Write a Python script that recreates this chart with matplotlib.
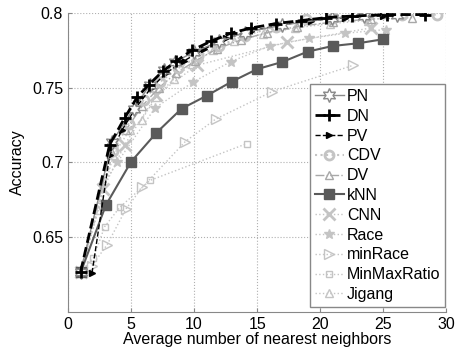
import matplotlib
matplotlib.use("Agg")
import matplotlib.pyplot as plt

plt.rcParams["font.family"] = ["Liberation Sans", "DejaVu Sans"]

# ---- data ------------------------------------------------------------------
pn_x = [1, 3.5, 5.2, 6.5, 7.6, 8.5, 10, 12, 14, 17, 20.9, 23.5, 26.1]
pn_y = [0.627, 0.714, 0.736, 0.752, 0.762, 0.7675, 0.774, 0.781, 0.787,
        0.792, 0.7965, 0.798, 0.7987]

dn_x = [1, 3.3, 4.5, 5.5, 6.4, 7.5, 8.6, 9.8, 11.3, 12.9, 14.5, 16.5, 18.5,
        20.5, 22.5, 25.3, 28.3]
dn_y = [0.627, 0.712, 0.730, 0.744, 0.752, 0.761, 0.768, 0.775, 0.781,
        0.7865, 0.790, 0.793, 0.795, 0.797, 0.798, 0.799, 0.799]

pv_x = [1.9, 3.3, 4.3, 5.4, 6.6, 7.8, 9.2, 10.8, 12.5, 14.5, 16.8, 19.3, 22, 25]
pv_y = [0.626, 0.705, 0.722, 0.737, 0.750, 0.760, 0.768, 0.776, 0.783,
        0.788, 0.792, 0.795, 0.797, 0.798]

cdv_x = [1, 3.6, 4.8, 6, 7.3, 8.7, 10.3, 12, 14, 16.5, 18.9, 21, 23.7, 26.5, 29.3]
cdv_y = [0.627, 0.708, 0.726, 0.742, 0.754, 0.763, 0.771, 0.778, 0.785,
         0.791, 0.7958, 0.797, 0.798, 0.7985, 0.799]

dv_x = [1, 3.4, 4.6, 5.9, 7.2, 8.6, 10.1, 11.8, 13.7, 15.8, 18.2, 21, 24, 27.3]
dv_y = [0.627, 0.708, 0.722, 0.738, 0.750, 0.760, 0.768, 0.776, 0.782,
        0.787, 0.791, 0.794, 0.796, 0.797]

knn_x = [1, 3, 5, 7, 9, 11, 13, 15, 17, 19, 21, 23, 25]
knn_y = [0.6265, 0.6715, 0.7005, 0.7198, 0.736, 0.7447, 0.7542, 0.7625,
         0.7673, 0.7742, 0.778, 0.7798, 0.7825]

cnn_x = [1, 2.8, 4.5, 7, 10.2, 17.4, 24]
cnn_y = [0.627, 0.6825, 0.712, 0.745, 0.765, 0.7805, 0.790]

race_x = [1, 2.7, 3.9, 6.9, 9.95, 12.9, 16.0, 19.1, 22.0, 25.2]
race_y = [0.627, 0.684, 0.700, 0.7365, 0.754, 0.7675, 0.778, 0.783, 0.7865, 0.789]

minrace_x = [1.9, 3.1, 4.6, 5.9, 9.3, 11.7, 16.2, 22.6]
minrace_y = [0.631, 0.645, 0.669, 0.6835, 0.714, 0.729, 0.7475, 0.765]

mmr_x = [1, 2.0, 2.9, 4.1, 6.5, 14.2]
mmr_y = [0.627, 0.636, 0.657, 0.670, 0.688, 0.7127]

jig_x = [1, 2.4, 3.6, 4.9, 5.85, 7.0, 8.4, 9.8, 11.5, 13.2, 15.5, 18, 20.8, 23.8]
jig_y = [0.627, 0.668, 0.705, 0.722, 0.7287, 0.744, 0.756, 0.766, 0.775,
         0.781, 0.786, 0.790, 0.793, 0.795]

x_ticks = [0, 5, 10, 15, 20, 25, 30]
y_ticks = [0.65, 0.7, 0.75, 0.8]

# ---- figure ----------------------------------------------------------------
fig = plt.figure(figsize=(4.6, 3.54), dpi=100)
ax = fig.add_axes([0.148, 0.119, 0.822, 0.844])

LG = "#c4c4c4"   # light gray for the baseline methods
ms_open = dict(markerfacecolor="none")

ax.plot(jig_x, jig_y, ":", color=LG, lw=1, marker="^", ms=6, mew=1,
        label="Jigang", zorder=2, **ms_open)
ax.plot(mmr_x, mmr_y, ":", color=LG, lw=1, marker="s", ms=5, mew=1,
        label="MinMaxRatio", zorder=2, **ms_open)
ax.plot(minrace_x, minrace_y, ":", color=LG, lw=1, marker=">", ms=7, mew=1,
        label="minRace", zorder=2, **ms_open)
ax.plot(race_x, race_y, ":", color=LG, lw=1, marker="*", ms=7, mew=1,
        label="Race", zorder=2)
ax.plot(cnn_x, cnn_y, ":", color=LG, lw=1, marker="x", ms=8, mew=2,
        label="CNN", zorder=2)
ax.plot(knn_x, knn_y, "-", color="#5a5a5a", lw=1.5, marker="s", ms=7,
        markerfacecolor="#5a5a5a", label="kNN", zorder=4)
ax.plot(dv_x, dv_y, "-.", color="#a8a8a8", lw=1, marker="^", ms=6, mew=1,
        label="DV", zorder=3, **ms_open)
ax.plot(cdv_x, cdv_y, ":", color=LG, lw=1.5, marker="o", ms=6.5, mew=2,
        label="CDV", zorder=3, **ms_open)
ax.plot(pv_x, pv_y, "--", color="black", lw=1, marker=">", ms=4,
        label="PV", zorder=5)
ax.plot(dn_x, dn_y, "--", color="black", lw=2, marker="+", ms=8, mew=2,
        label="DN", zorder=6)
ax.plot(pn_x, pn_y, "-", color="#8a8a8a", lw=1, marker=(6, 1, 0), ms=10,
        mew=1, markerfacecolor="white", label="PN", zorder=5)

ax.set_xlim(0, 30)
ax.set_ylim(0.6, 0.8)
ax.set_xticks(x_ticks)
ax.set_yticks(y_ticks)
ax.set_yticklabels(["0.65", "0.7", "0.75", "0.8"])
ax.tick_params(direction="in", length=3, labelsize=11.5, color="#888888")
ax.grid(True, linestyle=":", color="#b0b0b0", lw=0.8)
for s in ["top", "right"]:
    ax.spines[s].set_visible(False)
for s in ["left", "bottom"]:
    ax.spines[s].set_color("#888888")

ax.set_xlabel("Average number of nearest neighbors", fontsize=11.5, labelpad=0)
ax.set_ylabel("Accuracy", fontsize=11.5, labelpad=5)

h, l = ax.get_legend_handles_labels()
order = ["PN", "DN", "PV", "CDV", "DV", "kNN", "CNN", "Race", "minRace",
         "MinMaxRatio", "Jigang"]
hs = [h[l.index(n)] for n in order]
leg = ax.legend(hs, order, loc="lower right", bbox_to_anchor=(0.997, 0.017),
                fontsize=11.5, frameon=True, fancybox=False, framealpha=1,
                edgecolor="#888888", handlelength=1.8, handletextpad=0.2,
                labelspacing=0.3, borderpad=0.3, borderaxespad=0)
leg.get_frame().set_linewidth(1)
leg.set_zorder(10)

fig.savefig("out.png", dpi=100, facecolor="white")
